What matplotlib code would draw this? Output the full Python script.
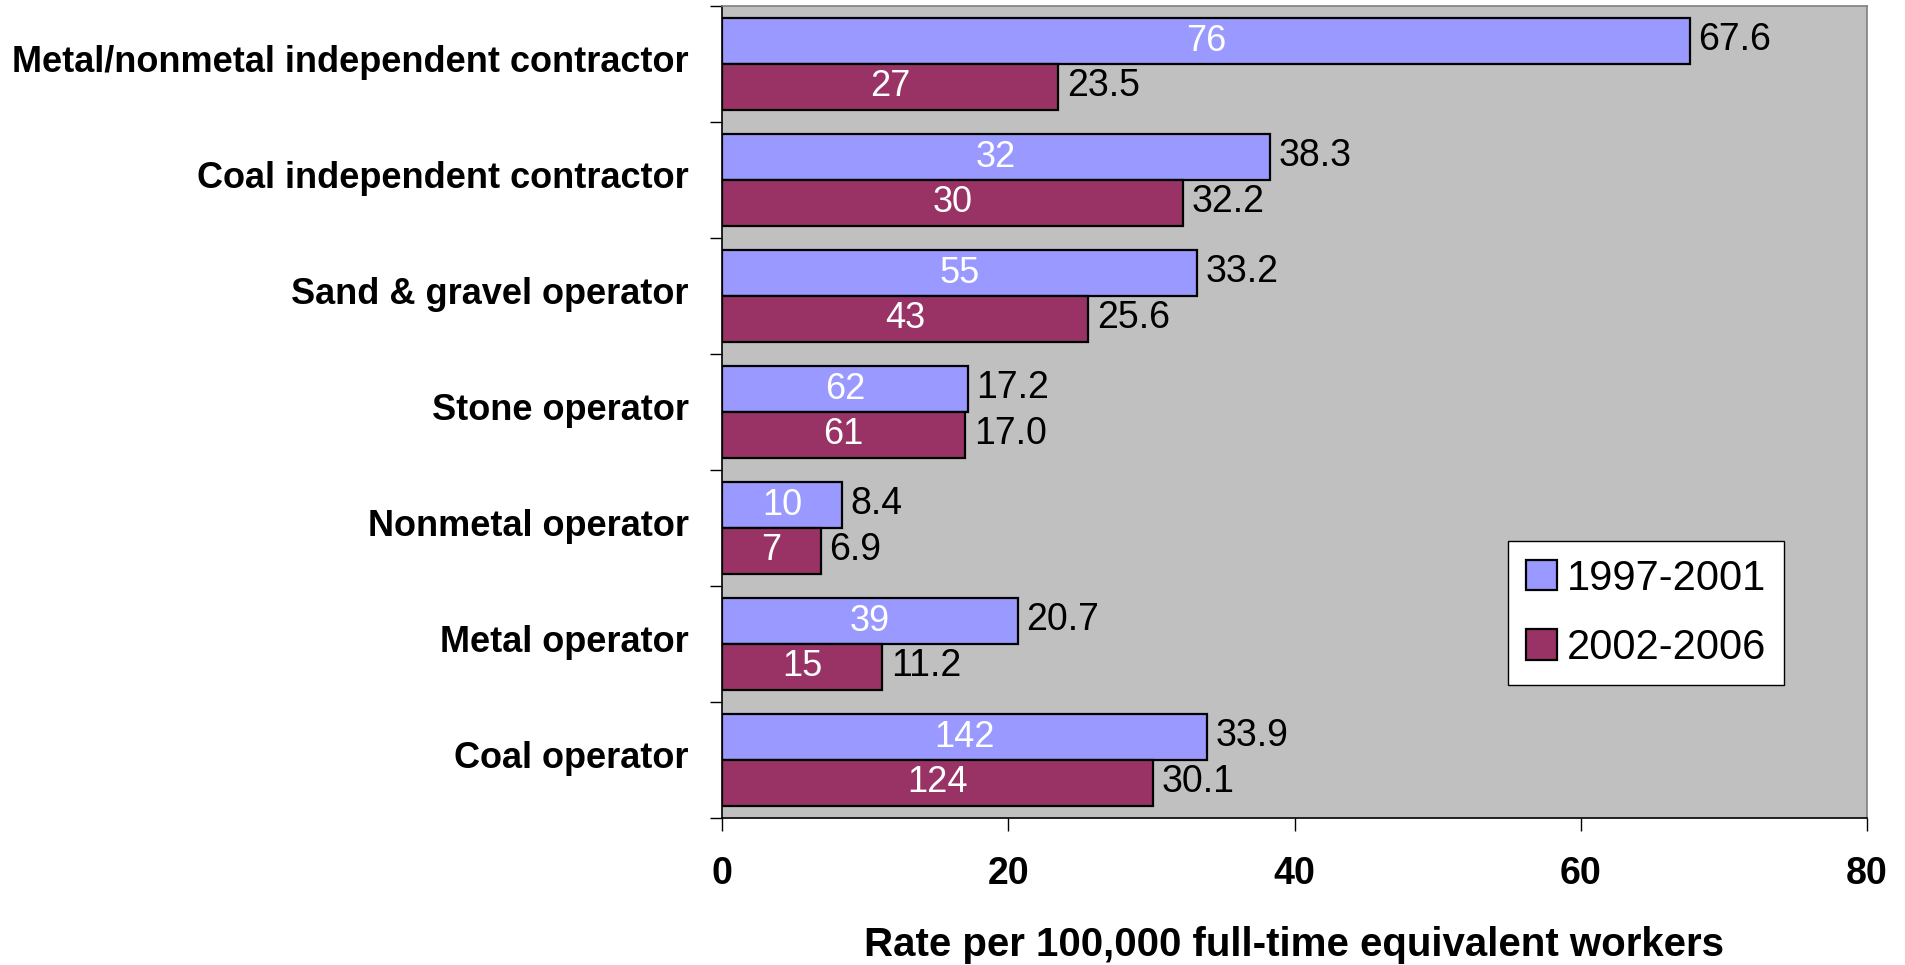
import matplotlib
matplotlib.use("Agg")
import matplotlib.pyplot as plt
import matplotlib.transforms as mtransforms
import numpy as np

plt.rcParams['font.family'] = ['Liberation Sans', 'DejaVu Sans']

categories = ["Metal/nonmetal independent contractor", "Coal independent contractor",
              "Sand & gravel operator", "Stone operator", "Nonmetal operator",
              "Metal operator", "Coal operator"]
series_names = ["1997-2001", "2002-2006"]
rate_1997 = [67.6, 38.3, 33.2, 17.2, 8.4, 20.7, 33.9]
rate_2002 = [23.5, 32.2, 25.6, 17.0, 6.9, 11.2, 30.1]
count_1997 = [76, 32, 55, 62, 10, 39, 142]
count_2002 = [27, 30, 43, 61, 7, 15, 124]
xticks = [0, 20, 40, 60, 80]
xlabel = "Rate per 100,000 full-time equivalent workers"

colors = ["#9999FF", "#993366"]

fig = plt.figure(figsize=(19.06, 9.65), dpi=100)
ax = fig.add_axes([722/1906, 1-818/965, 1145/1906, 812/965])
ax.set_facecolor("#C0C0C0")

y = np.arange(len(categories))
h = 0.395
off = 0.198
for rates, counts, col, name, d in [(rate_1997, count_1997, colors[0], series_names[0], -off),
                                     (rate_2002, count_2002, colors[1], series_names[1], off)]:
    ax.barh(y + d, rates, height=h, color=col, edgecolor="black", linewidth=1.6,
            label=name, zorder=3)
    for yy, r, c in zip(y + d, rates, counts):
        ax.annotate(f"{r:.1f}", xy=(r, yy), xytext=(6, 1), textcoords="offset points",
                    ha="left", va="center", fontsize=27, color="black", zorder=4)
        ax.text(r / 2, yy, str(c), ha="center", va="center", fontsize=26,
                color="white", zorder=4)

ax.set_xlim(0, 80)
ax.set_ylim(len(categories) - 0.5, -0.5)
ax.set_xticks(xticks)
ax.set_xticklabels([str(t) for t in xticks], fontsize=27, fontweight="bold")
ax.tick_params(axis="x", direction="out", length=9, width=1, pad=18)

ax.set_yticks(y)
ax.set_yticklabels(categories, fontsize=26, fontweight="bold")
ax.set_yticks(np.arange(len(categories) + 1) - 0.5, minor=True)
ax.tick_params(axis="y", which="major", length=0, pad=24)
ax.tick_params(axis="y", which="minor", length=9, width=1, direction="out")
shift = mtransforms.ScaledTranslation(0, 4/72, fig.dpi_scale_trans)
for lab in ax.get_yticklabels():
    lab.set_transform(lab.get_transform() + shift)

for s in ["top", "right"]:
    ax.spines[s].set_color("#808080")
    ax.spines[s].set_linewidth(1.2)
for s in ["left", "bottom"]:
    ax.spines[s].set_color("black")
    ax.spines[s].set_linewidth(1.2)

ax.set_xlabel(xlabel, fontsize=29, fontweight="bold", labelpad=25)

leg = ax.legend(loc="upper left", bbox_to_anchor=(0.6865, 0.341), borderaxespad=0,
                fontsize=30, frameon=True, fancybox=False, edgecolor="black",
                handlelength=0.75, handleheight=0.75, handletextpad=0.25,
                labelspacing=0.7, borderpad=0.42)
leg.get_frame().set_linewidth(1.0)
leg.get_frame().set_facecolor("white")
leg.get_frame().set_alpha(1)

fig.savefig("out.png", dpi=100)
